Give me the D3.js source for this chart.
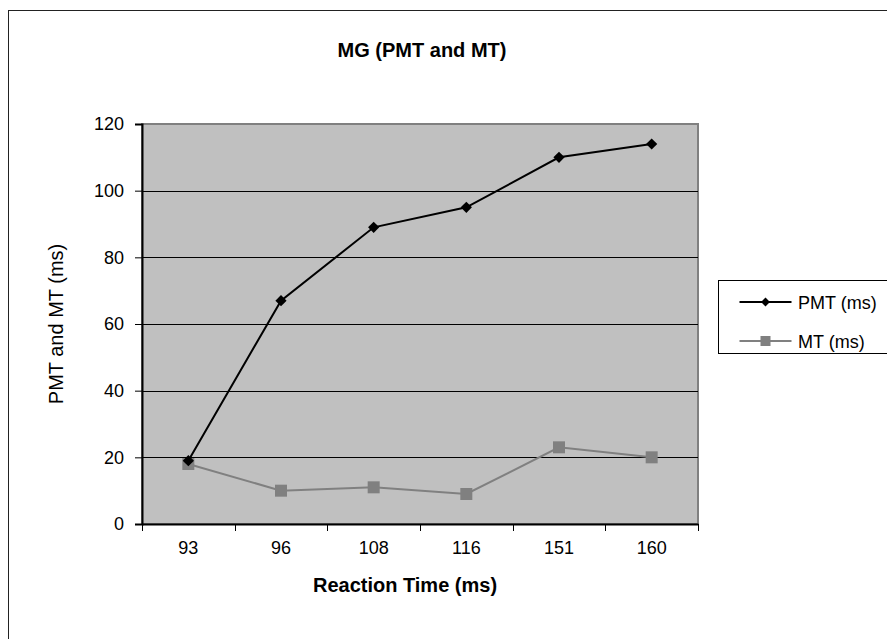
<!DOCTYPE html>
<html>
<head>
<meta charset="utf-8">
<script src="https://cdn.jsdelivr.net/npm/d3@7"></script>
<style>
  body { margin: 0; background: #fff; }
  text { font-family: "Liberation Sans", Arial, sans-serif; }
</style>
</head>
<body>
<div id="chart"></div>
<script>
const categories = ["93", "96", "108", "116", "151", "160"];
const pmtValues = [19, 67, 89, 95, 110, 114];
const mtValues = [18, 10, 11, 9, 23, 20];
const yTicks = [0, 20, 40, 60, 80, 100, 120];

const W = 887, H = 639;
const margin = { top: 124, right: 189, bottom: 115, left: 142 };
const width = W - margin.left - margin.right;
const height = H - margin.top - margin.bottom;

const root = d3.select("#chart").append("svg")
  .attr("width", W).attr("height", H);

// outer chart border (runs past the window on the right and bottom)
root.append("rect")
  .attr("x", 8.5).attr("y", 10.5)
  .attr("width", 900).attr("height", 700)
  .attr("fill", "none").attr("stroke", "#222").attr("stroke-width", 1);

const svg = root.append("g")
  .attr("transform", `translate(${margin.left},${margin.top})`);

const x = d3.scaleBand().domain(categories).range([0, width]);
const y = d3.scaleLinear().domain([0, 120]).range([height, 0]);

// plot area
svg.append("rect")
  .attr("width", width).attr("height", height)
  .attr("fill", "#c0c0c0")
  .attr("stroke", "#808080").attr("stroke-width", 2);

// gridlines
svg.append("g").selectAll("line")
  .data(yTicks.filter(d => d > 0 && d < 120))
  .enter().append("line")
  .attr("x1", 0).attr("x2", width)
  .attr("y1", d => Math.round(y(d)) + 0.5).attr("y2", d => Math.round(y(d)) + 0.5)
  .attr("stroke", "#000").attr("stroke-width", 1);

// y axis
const yAxis = svg.append("g")
  .call(d3.axisLeft(y).tickValues(yTicks).tickSize(7).tickPadding(11));
yAxis.select(".domain").attr("stroke", "#000").attr("stroke-width", 2);
yAxis.selectAll("text").attr("font-size", 18).attr("fill", "#000");

// x axis, ticks sit on the category boundaries
const xAxis = svg.append("g").attr("transform", `translate(0,${height})`)
  .call(d3.axisBottom(x).tickSize(0).tickPadding(17));
xAxis.select(".domain").attr("stroke", "#000").attr("stroke-width", 2);
xAxis.selectAll("text").attr("font-size", 18).attr("fill", "#000");
xAxis.selectAll(".bound").data(d3.range(categories.length + 1))
  .enter().append("line").attr("class", "bound")
  .attr("x1", i => Math.round(i * x.step()) + 0.5).attr("x2", i => Math.round(i * x.step()) + 0.5)
  .attr("y1", 0).attr("y2", 7).attr("stroke", "#000");

const cx = (d, i) => x(categories[i]) + x.bandwidth() / 2;
const line = d3.line().x(cx).y(d => y(d));

// MT series
svg.append("path").datum(mtValues)
  .attr("d", line).attr("fill", "none")
  .attr("stroke", "#808080").attr("stroke-width", 2);
svg.selectAll(".mt").data(mtValues).enter().append("rect")
  .attr("class", "mt")
  .attr("x", (d, i) => cx(d, i) - 6).attr("y", d => y(d) - 6)
  .attr("width", 12).attr("height", 12)
  .attr("fill", "#808080");

// PMT series
svg.append("path").datum(pmtValues)
  .attr("d", line).attr("fill", "none")
  .attr("stroke", "#000").attr("stroke-width", 2);
const diamond = d3.symbol().type(d3.symbolDiamond2).size(80);
svg.selectAll(".pmt").data(pmtValues).enter().append("path")
  .attr("class", "pmt")
  .attr("d", diamond)
  .attr("transform", (d, i) => `translate(${cx(d, i)},${y(d)})`)
  .attr("fill", "#000");

// titles
root.append("text").attr("x", 422).attr("y", 57)
  .attr("text-anchor", "middle").attr("font-size", 20).attr("font-weight", "bold")
  .text("MG (PMT and MT)");
root.append("text").attr("x", 405).attr("y", 592)
  .attr("text-anchor", "middle").attr("font-size", 20).attr("font-weight", "bold")
  .text("Reaction Time (ms)");
root.append("text")
  .attr("transform", `translate(63,324) rotate(-90)`)
  .attr("text-anchor", "middle").attr("font-size", 20)
  .text("PMT and MT (ms)");

// legend
const legend = root.append("g").attr("transform", "translate(718.5,280.5)");
legend.append("rect").attr("width", 200).attr("height", 73)
  .attr("fill", "#fff").attr("stroke", "#000");
const legendItems = [
  { name: "PMT (ms)", color: "#000", shape: "diamond", yy: 21.5 },
  { name: "MT (ms)", color: "#808080", shape: "square", yy: 60.5 }
];
legendItems.forEach(it => {
  const g = legend.append("g").attr("transform", `translate(0,${it.yy})`);
  g.append("line").attr("x1", 21).attr("x2", 73).attr("stroke", it.color).attr("stroke-width", 2);
  if (it.shape === "diamond") {
    g.append("path").attr("d", d3.symbol().type(d3.symbolDiamond2).size(50))
      .attr("transform", "translate(47,0)").attr("fill", it.color);
  } else {
    g.append("rect").attr("x", 42).attr("y", -5).attr("width", 10).attr("height", 10).attr("fill", it.color);
  }
  g.append("text").attr("x", 79.5).attr("y", 6.5).attr("font-size", 18).text(it.name);
});
</script>
</body>
</html>
